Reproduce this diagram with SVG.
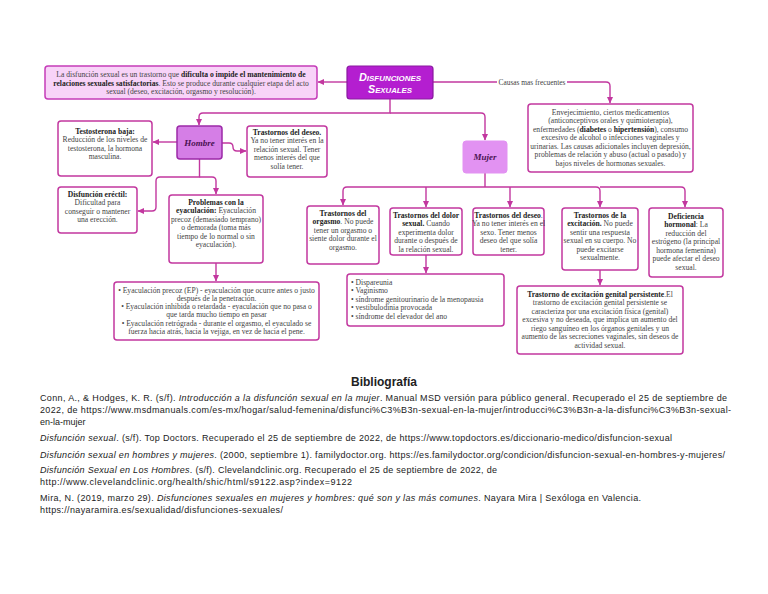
<svg xmlns="http://www.w3.org/2000/svg" width="768" height="594" viewBox="0 0 768 594">
<defs>
<marker id="ah" markerUnits="userSpaceOnUse" markerWidth="7" markerHeight="7" refX="6" refY="3.5" orient="auto">
<path d="M0,0.5 L6.5,3.5 L0,6.5 Z" fill="#c2379f"/>
</marker>
<style>
.box{fill:#fff;stroke:#c2379f;stroke-width:1.5}
.c{fill:none;stroke:#c2379f;stroke-width:1.4}
.ca{fill:none;stroke:#c2379f;stroke-width:1.4;marker-end:url(#ah)}
.t{font-family:"Liberation Serif","Times New Roman",serif;font-size:7.6px;fill:#444;text-anchor:middle}
.l{text-anchor:start}
.b{font-weight:bold;fill:#222}
.bib{font-family:"Liberation Sans",Arial,sans-serif;font-size:9px;fill:#222}
.i{font-style:italic}
</style>
</defs>
<rect width="768" height="594" fill="#fff"/>

<g id="connectors">
<path class="ca" d="M347,82 H318"/>
<path class="c" d="M433,82 H497"/>
<path class="ca" d="M567,82 H606 Q610,82 610,86 V103"/>
<path class="ca" d="M390,99 V113 H203 Q199,113 199,117 V125"/>
<path class="ca" d="M390,113 H481 Q485,113 485,117 V140"/>
<path class="ca" d="M177,142 H153"/>
<path class="ca" d="M222,143 H229 Q233,143 233,147 V147 Q233,151 237,151 H246"/>
<path class="ca" d="M199.5,159 V177 H160 Q156,177 156,181 V207 Q156,211 152,211 H138"/>
<path class="ca" d="M199.5,177 H212 Q216,177 216,181 V194"/>
<path class="ca" d="M216,263 V281"/>
<path class="c" d="M485,173 V187"/>
<path class="ca" d="M485,187 H347 Q343,187 343,191 V205"/>
<path class="ca" d="M426,187 V207"/>
<path class="ca" d="M510,187 V207"/>
<path class="ca" d="M485,187 H596 Q600,187 600,191 V207"/>
<path class="ca" d="M600,187 H681 Q685,187 685,191 V207"/>
<path class="ca" d="M426,255 V273"/>
<path class="ca" d="M600,270 V285"/>
<text x="532" y="84.5" style="font-family:'Liberation Serif',serif;font-size:7.4px;fill:#444;text-anchor:middle">Causas mas frecuentes</text>
</g>

<g id="titulo">
<rect x="347" y="66" width="86" height="33" rx="3" fill="#b41ed0" stroke="#8a1aa0" stroke-width="1.2"/>
<text x="390" y="81" text-anchor="middle" style="font-family:'Liberation Sans',Arial,sans-serif;font-size:11px;font-weight:bold;font-style:italic;font-variant:small-caps;fill:#fff" textLength="62" lengthAdjust="spacingAndGlyphs">Disfunciones</text>
<text x="390" y="93" text-anchor="middle" style="font-family:'Liberation Sans',Arial,sans-serif;font-size:11px;font-weight:bold;font-style:italic;font-variant:small-caps;fill:#fff" textLength="44" lengthAdjust="spacingAndGlyphs">Sexuales</text>
</g>

<g id="definicion">
<rect x="45" y="66" width="272" height="33" rx="3" fill="#f8d3f8" stroke="#c53cb8" stroke-width="1.5"/>
<text class="t" x="181" y="77">La disfunción sexual es un trastorno que <tspan class="b">dificulta o impide el mantenimiento de</tspan></text>
<text class="t" x="181" y="85.5"><tspan class="b">relaciones sexuales satisfactorias</tspan>. Esto se produce durante cualquier etapa del acto</text>
<text class="t" x="181" y="94">sexual (deseo, excitación, orgasmo y resolución).</text>
</g>

<g id="causas">
<rect class="box" x="528" y="104" width="165" height="68" rx="3"/>
<text class="t" x="610.5" y="114.5">Envejecimiento, ciertos medicamentos</text>
<text class="t" x="610.5" y="123">(anticonceptivos orales y quimioterapia),</text>
<text class="t" x="610.5" y="131.5">enfermedades (<tspan class="b">diabetes</tspan> o <tspan class="b">hipertensión</tspan>), consumo</text>
<text class="t" x="610.5" y="140">excesivo de alcohol o infecciones vaginales y</text>
<text class="t" x="610.5" y="148.5">urinarias. Las causas adicionales incluyen depresión,</text>
<text class="t" x="610.5" y="157">problemas de relación y abuso (actual o pasado) y</text>
<text class="t" x="610.5" y="165.5">bajos niveles de hormonas sexuales.</text>
</g>

<g id="hombre">
<rect x="177" y="126" width="45" height="33" rx="3" fill="#d57ee6" stroke="#9c2aa8" stroke-width="1.5"/>
<text x="199.5" y="145.5" text-anchor="middle" style="font-family:'Liberation Serif',serif;font-size:9px;font-weight:bold;font-style:italic;fill:#4a1252">Hombre</text>
</g>

<g id="mujer">
<rect x="463" y="141" width="44" height="32" rx="3" fill="#e292f2" stroke="#e292f2" stroke-width="1"/>
<text x="485" y="160" text-anchor="middle" style="font-family:'Liberation Serif',serif;font-size:9px;font-weight:bold;font-style:italic;fill:#4a1252">Mujer</text>
</g>

<g id="testosterona">
<rect class="box" x="58" y="121" width="94" height="55" rx="3"/>
<text class="t b" x="105" y="133.5">Testosterona baja:</text>
<text class="t" x="105" y="142">Reducción de los niveles de</text>
<text class="t" x="105" y="150.5">testosterona, la hormona</text>
<text class="t" x="105" y="159">masculina.</text>
</g>

<g id="deseo-hombre">
<rect class="box" x="247" y="126" width="80" height="51" rx="3"/>
<text class="t b" x="287" y="134.5">Trastornos del deseo.</text>
<text class="t" x="287" y="143">Ya no tener interés en la</text>
<text class="t" x="287" y="151.5">relación sexual. Tener</text>
<text class="t" x="287" y="160">menos interés del que</text>
<text class="t" x="287" y="168.5">solía tener.</text>
</g>

<g id="erectil">
<rect class="box" x="58" y="187" width="79" height="46" rx="3"/>
<text class="t b" x="97.5" y="196.5">Disfunción eréctil:</text>
<text class="t" x="97.5" y="205">Dificultad para</text>
<text class="t" x="97.5" y="213.5">conseguir o mantener</text>
<text class="t" x="97.5" y="222">una erección.</text>
</g>

<g id="eyaculacion">
<rect class="box" x="169" y="195" width="94" height="68" rx="3"/>
<text class="t b" x="216" y="204.5">Problemas con la</text>
<text class="t" x="216" y="213"><tspan class="b">eyaculación:</tspan> Eyaculación</text>
<text class="t" x="216" y="221.5">precoz (demasiado temprano)</text>
<text class="t" x="216" y="230">o demorada (toma más</text>
<text class="t" x="216" y="238.5">tiempo de lo normal o sin</text>
<text class="t" x="216" y="247">eyaculación).</text>
</g>

<g id="tipos-eyaculacion">
<rect class="box" x="114" y="282" width="205" height="58" rx="3"/>
<text class="t" x="216.5" y="292.5">• Eyaculación precoz (EP) - eyaculación que ocurre antes o justo</text>
<text class="t" x="216.5" y="300.5">después de la penetración.</text>
<text class="t" x="216.5" y="309">• Eyaculación inhibida o retardada - eyaculación que no pasa o</text>
<text class="t" x="216.5" y="317">que tarda mucho tiempo en pasar</text>
<text class="t" x="216.5" y="325.5">• Eyaculación retrógrada - durante el orgasmo, el eyaculado se</text>
<text class="t" x="216.5" y="333.5">fuerza hacia atrás, hacia la vejiga, en vez de hacia el pene.</text>
</g>

<g id="orgasmo">
<rect class="box" x="307" y="206" width="72" height="58" rx="3"/>
<text class="t b" x="343" y="215.5">Trastornos del</text>
<text class="t" x="343" y="224"><tspan class="b">orgasmo</tspan>. No puede</text>
<text class="t" x="343" y="232.5">tener un orgasmo o</text>
<text class="t" x="343" y="241">siente dolor durante el</text>
<text class="t" x="343" y="249.5">orgasmo.</text>
</g>

<g id="dolor">
<rect class="box" x="390" y="208" width="72" height="47" rx="3"/>
<text class="t b" x="426" y="217.5">Trastornos del dolor</text>
<text class="t" x="426" y="226"><tspan class="b">sexual.</tspan> Cuando</text>
<text class="t" x="426" y="234.5">experimenta dolor</text>
<text class="t" x="426" y="243">durante o después de</text>
<text class="t" x="426" y="251.5">la relación sexual.</text>
</g>

<g id="deseo-mujer">
<rect class="box" x="473" y="208" width="71" height="47" rx="3"/>
<text class="t" x="508.5" y="217.5"><tspan class="b">Trastornos del deseo</tspan>.</text>
<text class="t" x="508.5" y="226">Ya no tener interés en el</text>
<text class="t" x="508.5" y="234.5">sexo. Tener menos</text>
<text class="t" x="508.5" y="243">deseo del que solía</text>
<text class="t" x="508.5" y="251.5">tener.</text>
</g>

<g id="excitacion">
<rect class="box" x="562" y="208" width="76" height="62" rx="3"/>
<text class="t b" x="600" y="217.5">Trastornos de la</text>
<text class="t" x="600" y="226"><tspan class="b">excitación.</tspan> No puede</text>
<text class="t" x="600" y="234.5">sentir una respuesta</text>
<text class="t" x="600" y="243">sexual en su cuerpo. No</text>
<text class="t" x="600" y="251.5">puede excitarse</text>
<text class="t" x="600" y="260">sexualmente.</text>
</g>

<g id="hormonal">
<rect class="box" x="649" y="208" width="74" height="69" rx="3"/>
<text class="t b" x="686" y="218.5">Deficiencia</text>
<text class="t" x="686" y="227"><tspan class="b">hormonal</tspan>: La</text>
<text class="t" x="686" y="235.5">reducción del</text>
<text class="t" x="686" y="244">estrógeno (la principal</text>
<text class="t" x="686" y="252.5">hormona femenina)</text>
<text class="t" x="686" y="261">puede afectar el deseo</text>
<text class="t" x="686" y="269.5">sexual.</text>
</g>

<g id="tipos-dolor">
<rect class="box" x="347" y="274" width="157" height="52" rx="3"/>
<text class="t l" x="351" y="284.5">• Dispareunia</text>
<text class="t l" x="351" y="293">• Vaginismo</text>
<text class="t l" x="351" y="301.5">• síndrome genitourinario de la menopausia</text>
<text class="t l" x="351" y="310">• vestibulodinia provocada</text>
<text class="t l" x="351" y="318.5">• síndrome del elevador del ano</text>
</g>

<g id="persistente">
<rect class="box" x="517" y="286" width="166" height="68" rx="3"/>
<text class="t" x="600" y="296.5"><tspan class="b">Trastorno de excitación genital persistente</tspan>.El</text>
<text class="t" x="600" y="305">trastorno de excitación genital persistente se</text>
<text class="t" x="600" y="313.5">caracteriza por una excitación física (genital)</text>
<text class="t" x="600" y="322">excesiva y no deseada, que implica un aumento del</text>
<text class="t" x="600" y="330.5">riego sanguíneo en los órganos genitales y un</text>
<text class="t" x="600" y="339">aumento de las secreciones vaginales, sin deseos de</text>
<text class="t" x="600" y="347.5">actividad sexual.</text>
</g>

<g id="bibliografia">
<text x="384" y="385.5" text-anchor="middle" style="font-family:'Liberation Sans',Arial,sans-serif;font-size:12px;font-weight:bold;fill:#222">Bibliografía</text>
<text class="bib" x="40" y="401" textLength="687" lengthAdjust="spacing">Conn, A., &amp; Hodges, K. R. (s/f). <tspan class="i">Introducción a la disfunción sexual en la mujer</tspan>. Manual MSD versión para público general. Recuperado el 25 de septiembre de</text>
<text class="bib" x="40" y="413" textLength="691" lengthAdjust="spacing">2022, de https://www.msdmanuals.com/es-mx/hogar/salud-femenina/disfunci%C3%B3n-sexual-en-la-mujer/introducci%C3%B3n-a-la-disfunci%C3%B3n-sexual-</text>
<text class="bib" x="40" y="424.5">en-la-mujer</text>
<text class="bib" x="40" y="441" textLength="632" lengthAdjust="spacing"><tspan class="i">Disfunción sexual</tspan>. (s/f). Top Doctors. Recuperado el 25 de septiembre de 2022, de https://www.topdoctors.es/diccionario-medico/disfuncion-sexual</text>
<text class="bib" x="40" y="458" textLength="685" lengthAdjust="spacing"><tspan class="i">Disfunción sexual en hombres y mujeres</tspan>. (2000, septiembre 1). familydoctor.org. https://es.familydoctor.org/condicion/disfuncion-sexual-en-hombres-y-mujeres/</text>
<text class="bib" x="40" y="473" textLength="457" lengthAdjust="spacing"><tspan class="i">Disfunción Sexual en Los Hombres</tspan>. (s/f). Clevelandclinic.org. Recuperado el 25 de septiembre de 2022, de</text>
<text class="bib" x="40" y="485" textLength="312" lengthAdjust="spacing">http://www.clevelandclinic.org/health/shic/html/s9122.asp?index=9122</text>
<text class="bib" x="40" y="501" textLength="601" lengthAdjust="spacing">Mira, N. (2019, marzo 29). <tspan class="i">Disfunciones sexuales en mujeres y hombres: qué son y las más comunes</tspan>. Nayara Mira | Sexóloga en Valencia.</text>
<text class="bib" x="40" y="513" textLength="243" lengthAdjust="spacing">https://nayaramira.es/sexualidad/disfunciones-sexuales/</text>
</g>
</svg>
